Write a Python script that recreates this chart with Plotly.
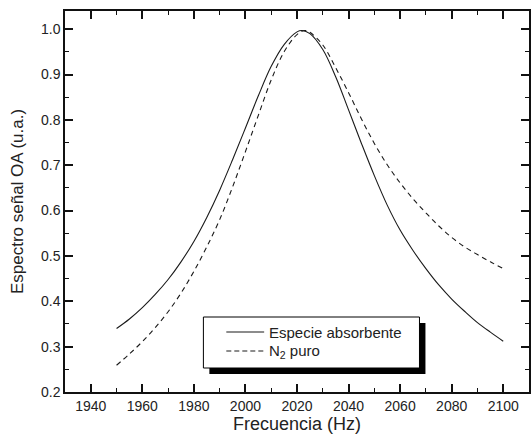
import plotly.graph_objects as go

freq_solid = [1950, 1955, 1960, 1965, 1970, 1975, 1980, 1985, 1990, 1995, 2000, 2005, 2010, 2015,
              2020, 2022, 2025, 2030, 2035, 2040, 2045, 2050, 2055, 2060, 2065, 2070, 2075, 2080,
              2085, 2090, 2095, 2100]
especie_absorbente = [0.340, 0.361, 0.386, 0.415, 0.448, 0.487, 0.532, 0.585, 0.645, 0.712, 0.782,
                      0.853, 0.918, 0.966, 0.994, 0.997, 0.990, 0.955, 0.895, 0.822, 0.748, 0.677,
                      0.612, 0.557, 0.512, 0.472, 0.436, 0.405, 0.378, 0.353, 0.332, 0.312]

freq_dashed = [1950, 1955, 1960, 1965, 1970, 1975, 1980, 1985, 1990, 1995, 2000, 2005, 2010, 2015,
               2020, 2023, 2025, 2030, 2035, 2040, 2045, 2050, 2055, 2060, 2065, 2070, 2075, 2080,
               2085, 2090, 2095, 2100]
n2_puro = [0.259, 0.284, 0.311, 0.342, 0.377, 0.418, 0.466, 0.520, 0.580, 0.652, 0.730, 0.810,
           0.888, 0.950, 0.988, 0.997, 0.993, 0.965, 0.915, 0.860, 0.802, 0.748, 0.701, 0.661,
           0.626, 0.595, 0.566, 0.541, 0.520, 0.503, 0.487, 0.472]

series_names = ["Especie absorbente", "N<sub>2</sub> puro"]
x_title = "Frecuencia (Hz)"
y_title = "Espectro señal OA (u.a.)"

W, H = 531, 445
ML, MR, MT, MB = 65, 0, 11, 53
PW, PH = W - ML - MR, H - MT - MB
FONT = "Arial, Liberation Sans, sans-serif"
TXT = "#222222"


def px(x):
    return (x - ML) / PW


def py(y):
    return (H - MB - y) / PH


fig = go.Figure()
fig.add_trace(go.Scatter(x=freq_solid, y=especie_absorbente, mode="lines",
                         line=dict(color="#1a1a1a", width=1.1, shape="spline", smoothing=1.0),
                         name=series_names[0], showlegend=False))
fig.add_trace(go.Scatter(x=freq_dashed, y=n2_puro, mode="lines",
                         line=dict(color="#1a1a1a", width=1.1, dash="5px,4px", shape="spline", smoothing=1.0),
                         name=series_names[1], showlegend=False))

axis_common = dict(
    showgrid=False, zeroline=False, showline=True, linecolor="#111111", linewidth=1.5,
    mirror="allticks", ticks="inside", ticklen=8, tickwidth=1.5, tickcolor="#111111",
    tickfont=dict(family=FONT, size=14, color=TXT),
)

fig.update_xaxes(range=[1930, 2110], tick0=1940, dtick=20,
                 minor=dict(ticks="inside", ticklen=4, tickwidth=1.2, tickcolor="#111111", dtick=10, tick0=1930, showgrid=False),
                 title=dict(text=x_title, font=dict(family=FONT, size=18, color=TXT), standoff=4),
                 **axis_common)
fig.update_yaxes(range=[0.2, 1.04], tick0=0.2, dtick=0.1, tickformat=".1f",
                 minor=dict(ticks="inside", ticklen=4, tickwidth=1.2, tickcolor="#111111", dtick=0.05, tick0=0.2, showgrid=False),
                 title=dict(text=y_title, font=dict(family=FONT, size=17, color=TXT), standoff=13),
                 **axis_common)

# legend box with drop shadow
bx0, bx1, by0, by1 = 204, 421, 317, 368
shapes = [
    dict(type="rect", xref="paper", yref="paper", x0=px(bx0 + 6), x1=px(bx1 + 6), y0=py(by1 + 6), y1=py(by0 + 6),
         fillcolor="black", line=dict(width=0)),
    dict(type="rect", xref="paper", yref="paper", x0=px(bx0), x1=px(bx1), y0=py(by1), y1=py(by0),
         fillcolor="white", line=dict(color="black", width=1)),
    dict(type="line", xref="paper", yref="paper", x0=px(227), x1=px(265), y0=py(332), y1=py(332),
         line=dict(color="#1a1a1a", width=1.1)),
    dict(type="line", xref="paper", yref="paper", x0=px(227), x1=px(265), y0=py(351), y1=py(351),
         line=dict(color="#1a1a1a", width=1.1, dash="5px,3px")),
]
annotations = [
    dict(text=series_names[0], xref="paper", yref="paper", x=px(268), y=py(332), xanchor="left", yanchor="middle",
         showarrow=False, font=dict(family=FONT, size=15, color=TXT)),
    dict(text=series_names[1], xref="paper", yref="paper", x=px(268), y=py(351), xanchor="left", yanchor="middle",
         showarrow=False, font=dict(family=FONT, size=15, color=TXT)),
]

fig.update_layout(width=W, height=H, margin=dict(l=ML, r=MR, t=MT, b=MB, pad=0),
                  plot_bgcolor="white", paper_bgcolor="white", shapes=shapes, annotations=annotations,
                  showlegend=False)

fig.write_html("out.html")
